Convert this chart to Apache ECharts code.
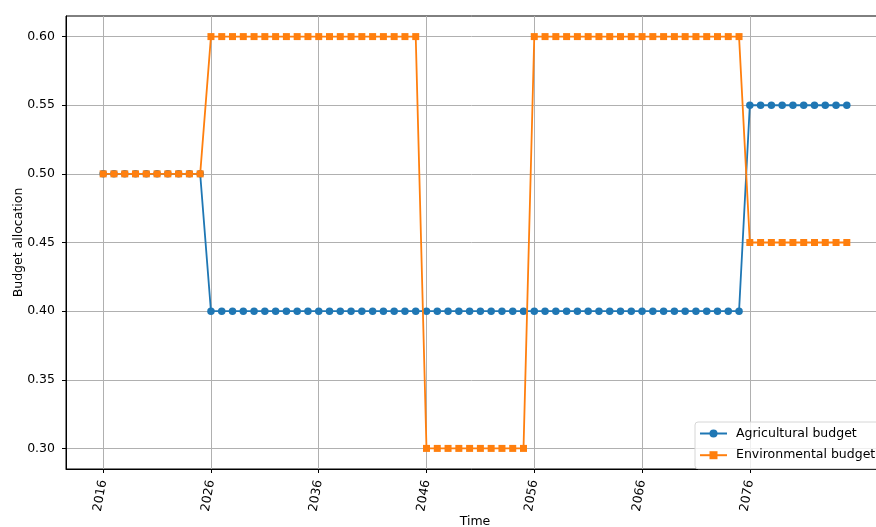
<!DOCTYPE html>
<html>
<head>
<meta charset="utf-8">
<script src="https://cdn.jsdelivr.net/npm/echarts@6/dist/echarts.min.js"></script>
<style>html,body{margin:0;padding:0;background:#fff;}#c{width:876px;height:527px;}</style>
</head>
<body>
<div id="c"></div>
<script>
const years = [2016,2017,2018,2019,2020,2021,2022,2023,2024,2025,
  2026,2027,2028,2029,2030,2031,2032,2033,2034,2035,
  2036,2037,2038,2039,2040,2041,2042,2043,2044,2045,
  2046,2047,2048,2049,2050,2051,2052,2053,2054,2055,
  2056,2057,2058,2059,2060,2061,2062,2063,2064,2065,
  2066,2067,2068,2069,2070,2071,2072,2073,2074,2075,
  2076,2077,2078,2079,2080,2081,2082,2083,2084,2085];
const agricultural = [0.5,0.5,0.5,0.5,0.5,0.5,0.5,0.5,0.5,0.5,
  0.4,0.4,0.4,0.4,0.4,0.4,0.4,0.4,0.4,0.4,
  0.4,0.4,0.4,0.4,0.4,0.4,0.4,0.4,0.4,0.4,
  0.4,0.4,0.4,0.4,0.4,0.4,0.4,0.4,0.4,0.4,
  0.4,0.4,0.4,0.4,0.4,0.4,0.4,0.4,0.4,0.4,
  0.4,0.4,0.4,0.4,0.4,0.4,0.4,0.4,0.4,0.4,
  0.55,0.55,0.55,0.55,0.55,0.55,0.55,0.55,0.55,0.55];
const environmental = [0.5,0.5,0.5,0.5,0.5,0.5,0.5,0.5,0.5,0.5,
  0.6,0.6,0.6,0.6,0.6,0.6,0.6,0.6,0.6,0.6,
  0.6,0.6,0.6,0.6,0.6,0.6,0.6,0.6,0.6,0.6,
  0.3,0.3,0.3,0.3,0.3,0.3,0.3,0.3,0.3,0.3,
  0.6,0.6,0.6,0.6,0.6,0.6,0.6,0.6,0.6,0.6,
  0.6,0.6,0.6,0.6,0.6,0.6,0.6,0.6,0.6,0.6,
  0.45,0.45,0.45,0.45,0.45,0.45,0.45,0.45,0.45,0.45];
const xTicks = [2016,2026,2036,2046,2056,2066,2076];
const yTicks = [0.30,0.35,0.40,0.45,0.50,0.55,0.60];

const font = 'DejaVu Sans';
const fs = 12.5;
const chart = echarts.init(document.getElementById('c'), null, {renderer: 'canvas'});
chart.setOption({
  animation: false,
  backgroundColor: '#fff',
  textStyle: {fontFamily: font},
  grid: {left: 66, right: -8, top: 16, bottom: 58, show: true, borderColor: '#000', borderWidth: 1, containLabel: false, outerBoundsMode: 'none'},
  legend: {
    orient: 'vertical',
    left: 695, top: 422,
    padding: [5, 8, 7, 4],
    itemWidth: 27, itemHeight: 10, itemGap: 8.7,
    backgroundColor: 'rgba(255,255,255,0.8)',
    borderColor: '#d6d6d6', borderWidth: 1, borderRadius: 3,
    textStyle: {fontFamily: font, fontSize: fs, lineHeight: 10, color: '#000', padding: [0, 0, 0, 4]},
    data: ['Agricultural budget', 'Environmental budget']
  },
  xAxis: {
    type: 'value',
    min: 2012.55, max: 2088.45,
    name: 'Time', nameLocation: 'middle', nameGap: 46.5, nameMoveOverlap: false,
    nameTextStyle: {fontFamily: font, fontSize: fs, color: '#000'},
    axisLine: {show: true, lineStyle: {color: '#000', width: 1}},
    axisTick: {show: true, length: 4, lineStyle: {color: '#000', width: 1}, customValues: xTicks},
    axisLabel: {customValues: xTicks, rotate: 80, margin: 11, padding: [12, 0, 0, 0], fontFamily: font, fontSize: fs, color: '#000', formatter: v => String(v)},
    splitLine: {show: true, lineStyle: {color: '#b0b0b0', width: 1}}
  },
  yAxis: {
    type: 'value',
    min: 0.285, max: 0.615,
    name: 'Budget allocation', nameLocation: 'middle', nameGap: 41, nameMoveOverlap: false,
    nameTextStyle: {fontFamily: font, fontSize: fs, color: '#000'},
    axisLine: {show: true, lineStyle: {color: '#000', width: 1}},
    axisTick: {show: true, length: 4, lineStyle: {color: '#000', width: 1}, customValues: yTicks},
    axisLabel: {customValues: yTicks, margin: 11, fontFamily: font, fontSize: fs, color: '#000', formatter: v => v.toFixed(2)},
    splitLine: {show: true, lineStyle: {color: '#b0b0b0', width: 1}}
  },
  series: [
    {
      name: 'Agricultural budget', type: 'line',
      data: years.map((y, i) => [y, agricultural[i]]),
      symbol: 'circle', symbolSize: 7.5, showAllSymbol: true,
      lineStyle: {color: '#1f77b4', width: 1.8},
      itemStyle: {color: '#1f77b4'},
      z: 2
    },
    {
      name: 'Environmental budget', type: 'line',
      data: years.map((y, i) => [y, environmental[i]]),
      symbol: 'rect', symbolSize: 7, showAllSymbol: true,
      lineStyle: {color: '#ff7f0e', width: 1.8},
      itemStyle: {color: '#ff7f0e'},
      z: 3
    }
  ]
});
</script>
</body>
</html>
